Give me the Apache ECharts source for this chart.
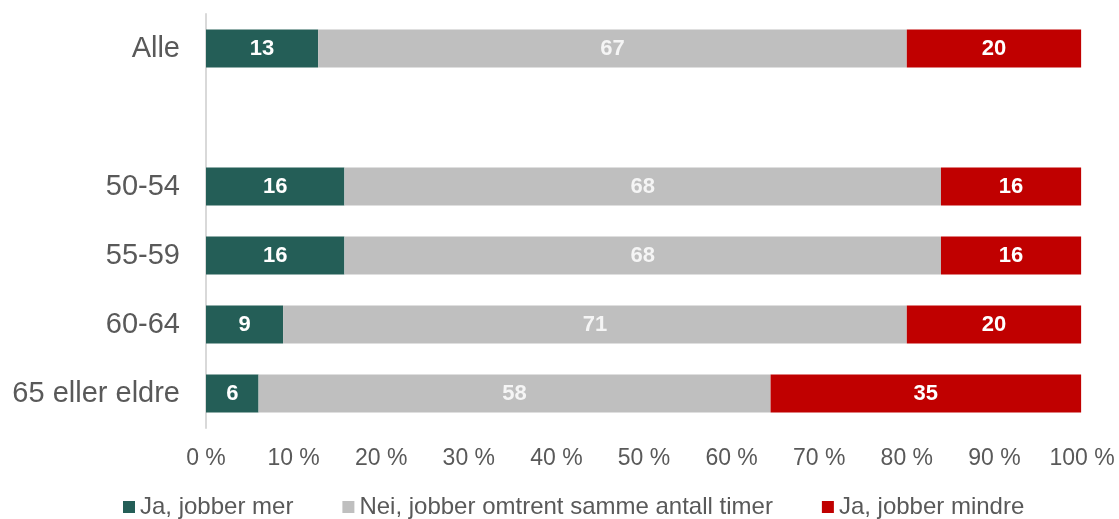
<!DOCTYPE html>
<html>
<head>
<meta charset="utf-8">
<script src="https://cdn.jsdelivr.net/npm/echarts@6/dist/echarts.min.js"></script>
<style>
html,body{margin:0;padding:0;background:#fff;}
#c{width:1119px;height:519px;}
</style>
</head>
<body>
<div id="c"></div>
<script>
var categories = ['Alle', '', '50-54', '55-59', '60-64', '65 eller eldre'];
var seriesNames = ['Ja, jobber mer', 'Nei, jobber omtrent samme antall timer', 'Ja, jobber mindre'];
var jaMer = [12.8, null, 15.8, 15.8, 8.8, 6.0];
var neiSamme = [67.2, null, 68.1, 68.1, 71.2, 58.45];
var jaMindre = [19.9, null, 16.0, 16.0, 19.9, 35.45];
var xTicks = [0, 10, 20, 30, 40, 50, 60, 70, 80, 90, 100];
var colors = ['#245E57', '#BFBFBF', '#C00000'];

var font = 'Liberation Sans, Arial, sans-serif';
var textColor = '#595959';
var values = [jaMer, neiSamme, jaMindre];

var chart = echarts.init(document.getElementById('c'), null, {renderer: 'canvas'});
chart.setOption({
  animation: false,
  grid: {left: 206, right: 37, top: 14, bottom: 91, containLabel: false},
  legend: {
    top: 495, left: 123, padding: 0,
    itemWidth: 12, itemHeight: 12, itemGap: 49,
    icon: 'rect',
    textStyle: {fontFamily: font, fontSize: 24, color: textColor},
    data: seriesNames
  },
  xAxis: {
    type: 'value', min: xTicks[0], max: xTicks[xTicks.length - 1], interval: 10,
    axisLine: {show: false}, axisTick: {show: false}, splitLine: {show: false},
    axisLabel: {fontFamily: font, fontSize: 23, color: textColor, margin: 19,
      formatter: function (v) { return v + ' %'; }}
  },
  yAxis: {
    type: 'category', data: categories, inverse: true,
    axisLine: {show: true, lineStyle: {color: '#D9D9D9', width: 2}},
    axisTick: {show: false},
    axisLabel: {fontFamily: font, fontSize: 29, color: textColor, margin: 26}
  },
  series: values.map(function (d, i) {
    return {
      name: seriesNames[i], type: 'bar', stack: 'all', data: d,
      barWidth: 38,
      itemStyle: {color: colors[i]},
      label: {show: true, position: 'inside', color: i === 1 ? '#F5F5F5' : '#fff', fontWeight: 'bold',
        fontFamily: font, fontSize: 22,
        formatter: function (p) { return p.value == null ? '' : Math.round(p.value); }}
    };
  })
});
</script>
</body>
</html>
